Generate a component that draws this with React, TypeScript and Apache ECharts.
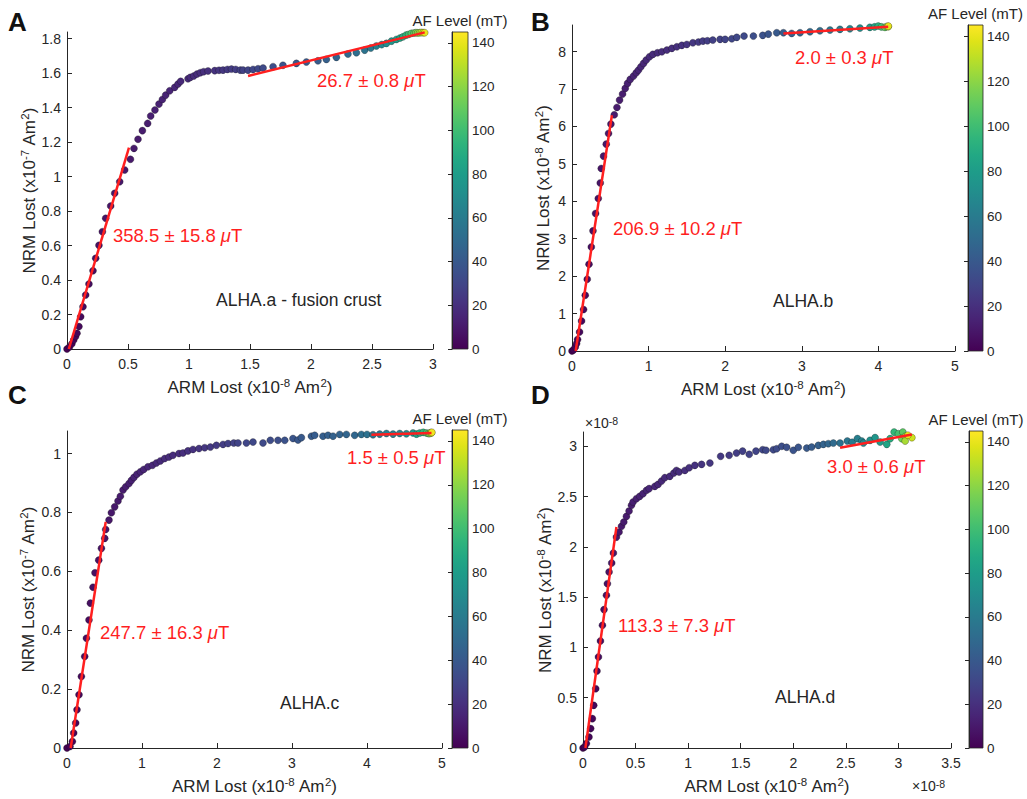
import React, { useEffect, useRef } from 'react';
import * as echarts from 'echarts';

// ---------------- DATA ----------------
// Panel A (ALHA.a - fusion crust), units: ARM x1e-8, NRM x1e-7
const armA = [0, 0.02, 0.04, 0.055, 0.07, 0.082, 0.098, 0.112, 0.131, 0.153, 0.18, 0.213, 0.235, 0.262, 0.29, 0.317, 0.358, 0.391, 0.432, 0.473, 0.52, 0.549, 0.582, 0.618, 0.661, 0.686, 0.721, 0.754, 0.782, 0.809, 0.842, 0.883, 0.91, 0.932, 0.992, 1.011, 1.039, 1.066, 1.093, 1.12, 1.156, 1.211, 1.246, 1.279, 1.315, 1.348, 1.383, 1.421, 1.443, 1.484, 1.525, 1.566, 1.607, 1.689, 1.77, 1.88, 1.962, 2.057, 2.126, 2.208, 2.303, 2.372, 2.44, 2.49, 2.536, 2.58, 2.618, 2.66, 2.7, 2.73, 2.754, 2.78, 2.8, 2.823, 2.845, 2.86, 2.875, 2.891, 2.905, 2.92, 2.932];
const nrmA = [0, 0.012, 0.03, 0.052, 0.072, 0.091, 0.13, 0.187, 0.245, 0.313, 0.377, 0.454, 0.526, 0.601, 0.68, 0.758, 0.829, 0.903, 0.97, 1.038, 1.1, 1.163, 1.216, 1.266, 1.308, 1.351, 1.386, 1.42, 1.447, 1.472, 1.497, 1.517, 1.536, 1.552, 1.567, 1.575, 1.583, 1.594, 1.602, 1.608, 1.612, 1.614, 1.616, 1.617, 1.621, 1.623, 1.621, 1.617, 1.617, 1.617, 1.621, 1.625, 1.629, 1.637, 1.645, 1.656, 1.664, 1.671, 1.679, 1.691, 1.71, 1.718, 1.733, 1.745, 1.757, 1.765, 1.772, 1.785, 1.795, 1.803, 1.81, 1.82, 1.824, 1.83, 1.832, 1.834, 1.833, 1.834, 1.835, 1.834, 1.834];
const afA = [0, 0.5, 1, 1.5, 2, 2.5, 3, 3.5, 4, 4.5, 5, 5.5, 6, 6.5, 7, 7.5, 8, 8.5, 9, 9.5, 10, 10.5, 11, 11.5, 12, 12.5, 13, 13.5, 14, 14.5, 15, 15.5, 16, 16.5, 17, 17.5, 18, 18.5, 19, 19.5, 20, 21, 22, 23, 24, 25, 26, 27, 28, 29, 30, 31, 32, 34, 36, 38, 40, 42, 44, 46, 49, 52, 55, 58, 62, 66, 70, 75, 80, 85, 90, 95, 100, 105, 110, 115, 120, 125, 130, 135, 140];
const fitLowA = [[0.015, 0], [0.508, 1.167]];
const fitHighA = [[1.484, 1.583], [2.932, 1.836]];

// Panel B (ALHA.b), units: ARM x1e-8, NRM x1e-8
const armB = [0, 0.02, 0.043, 0.06, 0.073, 0.099, 0.125, 0.151, 0.173, 0.199, 0.222, 0.252, 0.274, 0.308, 0.343, 0.369, 0.382, 0.412, 0.447, 0.477, 0.508, 0.552, 0.587, 0.621, 0.66, 0.695, 0.725, 0.76, 0.803, 0.838, 0.868, 0.9, 0.934, 0.969, 1.012, 1.056, 1.116, 1.173, 1.239, 1.304, 1.369, 1.434, 1.499, 1.578, 1.651, 1.708, 1.768, 1.838, 1.933, 1.999, 2.086, 2.151, 2.246, 2.368, 2.49, 2.563, 2.673, 2.76, 2.868, 2.977, 3.107, 3.237, 3.368, 3.498, 3.628, 3.759, 3.889, 3.95, 3.998, 4.04, 4.085, 4.11, 4.128, 4.13];
const nrmB = [0, 0.03, 0.107, 0.2, 0.305, 0.508, 0.802, 1.107, 1.489, 1.917, 2.318, 2.781, 3.21, 3.674, 4.075, 4.49, 4.877, 5.206, 5.527, 5.813, 6.062, 6.31, 6.508, 6.703, 6.864, 7.016, 7.15, 7.257, 7.345, 7.433, 7.505, 7.594, 7.684, 7.773, 7.861, 7.925, 7.968, 7.995, 8.04, 8.086, 8.128, 8.166, 8.19, 8.235, 8.254, 8.28, 8.289, 8.307, 8.326, 8.326, 8.342, 8.38, 8.414, 8.414, 8.433, 8.467, 8.503, 8.503, 8.485, 8.503, 8.53, 8.556, 8.575, 8.593, 8.61, 8.628, 8.647, 8.66, 8.682, 8.66, 8.647, 8.67, 8.665, 8.68];
const afB = [0, 0.5, 1, 1.5, 2, 2.5, 3, 3.5, 4, 4.5, 5, 5.5, 6, 6.5, 7, 7.5, 8, 8.5, 9, 9.5, 10, 10.5, 11, 11.5, 12, 12.5, 13, 13.5, 14, 14.5, 15, 15.5, 16, 16.5, 17, 17.5, 18, 18.5, 19, 19.5, 20, 21, 22, 23, 24, 25, 26, 27, 28, 29, 30, 31, 32, 34, 36, 38, 40, 42, 44, 46, 49, 52, 56, 60, 65, 70, 78, 85, 92, 100, 110, 120, 130, 140];
const fitLowB = [[0.048, 0], [0.521, 6.3]];
const fitHighB = [[2.76, 8.486], [4.128, 8.663]];

// Panel C (ALHA.c), units: ARM x1e-8, NRM x1e-7
const armC = [0, 0.04, 0.072, 0.089, 0.116, 0.133, 0.16, 0.192, 0.236, 0.259, 0.293, 0.312, 0.347, 0.373, 0.423, 0.459, 0.503, 0.516, 0.56, 0.592, 0.636, 0.68, 0.712, 0.747, 0.783, 0.827, 0.859, 0.893, 0.933, 0.979, 1.023, 1.08, 1.139, 1.192, 1.245, 1.303, 1.36, 1.413, 1.493, 1.547, 1.613, 1.68, 1.76, 1.836, 1.912, 1.992, 2.08, 2.147, 2.223, 2.28, 2.392, 2.48, 2.613, 2.711, 2.813, 2.903, 3.013, 3.08, 3.125, 3.259, 3.303, 3.413, 3.48, 3.547, 3.636, 3.725, 3.836, 3.925, 4.0, 4.08, 4.169, 4.259, 4.347, 4.436, 4.525, 4.613, 4.66, 4.703, 4.75, 4.792, 4.82, 4.836, 4.85, 4.859, 4.865];
const nrmC = [0, 0.005, 0.022, 0.051, 0.085, 0.13, 0.181, 0.243, 0.311, 0.373, 0.435, 0.492, 0.546, 0.595, 0.638, 0.678, 0.712, 0.742, 0.774, 0.799, 0.819, 0.839, 0.855, 0.876, 0.887, 0.898, 0.909, 0.919, 0.93, 0.938, 0.946, 0.955, 0.96, 0.968, 0.975, 0.983, 0.988, 0.994, 1.0, 1.002, 1.009, 1.014, 1.017, 1.02, 1.022, 1.028, 1.031, 1.034, 1.036, 1.036, 1.036, 1.039, 1.036, 1.045, 1.045, 1.045, 1.051, 1.046, 1.054, 1.059, 1.062, 1.059, 1.062, 1.059, 1.065, 1.065, 1.062, 1.065, 1.065, 1.064, 1.066, 1.068, 1.066, 1.068, 1.067, 1.07, 1.066, 1.07, 1.072, 1.07, 1.068, 1.068, 1.071, 1.07, 1.072];
const afC = [0, 0.5, 1, 1.5, 2, 2.5, 3, 3.5, 4, 4.5, 5, 5.5, 6, 6.5, 7, 7.5, 8, 8.5, 9, 9.5, 10, 10.5, 11, 11.5, 12, 12.5, 13, 13.5, 14, 14.5, 15, 15.5, 16, 16.5, 17, 17.5, 18, 18.5, 19, 19.5, 20.5, 21, 22, 23, 24, 25, 26, 27, 28, 29, 30, 31, 32, 33, 34, 36, 38, 39, 40, 41, 42, 43, 44, 45, 46, 47, 48, 52, 54, 56, 58, 61, 63, 66, 70, 76, 82, 88, 95, 102, 110, 118, 126, 134, 142];
const fitLowC = [[0.049, 0], [0.516, 0.768]];
const fitHighC = [[4.059, 1.064], [4.86, 1.07]];

// Panel D (ALHA.d), units: ARM x1e-8, NRM x1e-8
const armD = [0, 0.015, 0.032, 0.057, 0.073, 0.089, 0.102, 0.121, 0.133, 0.147, 0.166, 0.185, 0.2, 0.223, 0.232, 0.248, 0.273, 0.289, 0.318, 0.343, 0.366, 0.388, 0.413, 0.438, 0.461, 0.476, 0.508, 0.54, 0.571, 0.604, 0.629, 0.683, 0.714, 0.747, 0.778, 0.826, 0.864, 0.889, 0.914, 0.969, 1.01, 1.064, 1.128, 1.207, 1.309, 1.39, 1.46, 1.518, 1.581, 1.645, 1.709, 1.74, 1.81, 1.842, 1.89, 1.937, 2.0, 2.048, 2.128, 2.175, 2.238, 2.286, 2.333, 2.381, 2.445, 2.514, 2.56, 2.61, 2.651, 2.667, 2.73, 2.778, 2.826, 2.889, 2.921, 2.959, 3.0, 3.042, 3.032, 3.064, 3.064, 3.128, 3.09];
const nrmD = [0, 0.01, 0.044, 0.109, 0.193, 0.292, 0.424, 0.59, 0.765, 0.905, 1.064, 1.22, 1.376, 1.518, 1.634, 1.75, 1.839, 1.938, 2.097, 2.147, 2.204, 2.247, 2.303, 2.356, 2.413, 2.446, 2.479, 2.502, 2.529, 2.562, 2.579, 2.601, 2.621, 2.654, 2.688, 2.701, 2.734, 2.76, 2.744, 2.76, 2.787, 2.81, 2.82, 2.833, 2.9, 2.91, 2.933, 2.952, 2.92, 2.952, 2.966, 2.96, 2.966, 2.976, 3.0, 2.99, 2.96, 2.99, 2.982, 2.992, 3.009, 3.019, 3.026, 3.032, 3.032, 3.052, 3.04, 3.076, 3.052, 3.032, 3.059, 3.086, 3.042, 3.019, 3.076, 3.141, 3.125, 3.141, 3.076, 3.098, 3.052, 3.086, 3.11];
const afD = [0, 0.5, 1, 1.5, 2, 2.5, 3, 3.5, 4, 4.5, 5, 5.5, 6, 6.5, 7, 7.5, 8, 8.5, 9, 9.5, 10, 10.5, 11, 11.5, 12, 12.5, 13, 13.5, 14, 14.5, 15, 15.5, 16, 16.5, 17, 17.5, 18, 18.5, 19, 19.5, 20, 21, 22, 23, 24, 25, 26, 27, 28, 29, 30, 31, 32, 33, 34, 35, 37, 38, 40, 42, 44, 46, 48, 50, 53, 56, 59, 62, 65, 68, 72, 76, 80, 85, 90, 96, 102, 108, 114, 120, 126, 134, 140];
const fitLowD = [[0.023, 0], [0.318, 2.197]];
const fitHighD = [[2.445, 2.986], [3.128, 3.118]];

// Tick values
const xTicksA = [0, 0.5, 1, 1.5, 2, 2.5, 3];
const yTicksA = [0, 0.2, 0.4, 0.6, 0.8, 1, 1.2, 1.4, 1.6, 1.8];
const xTicksB = [0, 1, 2, 3, 4, 5];
const yTicksB = [0, 1, 2, 3, 4, 5, 6, 7, 8];
const xTicksC = [0, 1, 2, 3, 4, 5];
const yTicksC = [0, 0.2, 0.4, 0.6, 0.8, 1];
const xTicksD = [0, 0.5, 1, 1.5, 2, 2.5, 3, 3.5];
const yTicksD = [0, 0.5, 1, 1.5, 2, 2.5, 3];
const cbTicks = [0, 20, 40, 60, 80, 100, 120, 140];

// Annotation texts
const slopeLowLabels = ['358.5 \u00b1 15.8 ', '206.9 \u00b1 10.2 ', '247.7 \u00b1 16.3 ', '113.3 \u00b1 7.3 '];
const slopeHighLabels = ['26.7 \u00b1 0.8 ', '2.0 \u00b1 0.3 ', '1.5 \u00b1 0.5 ', '3.0 \u00b1 0.6 '];
const sampleNames = ['ALHA.a - fusion crust', 'ALHA.b', 'ALHA.c', 'ALHA.d'];
const panelLetters = ['A', 'B', 'C', 'D'];
const nrmExponents = ['-7', '-8', '-7', '-8'];

// ---------------- STYLE ----------------
const FONT = '"Liberation Sans", Arial, Helvetica, sans-serif';
const AX = '#262626';
const RED = '#ff1f1f';
const VIRIDIS = ['#440154', '#471365', '#482475', '#463480', '#414487', '#3b528b', '#355f8d', '#2f6c8e', '#2a788e', '#25848e', '#21918c', '#1e9c89', '#22a884', '#2fb47c', '#44bf70', '#5ec962', '#7ad151', '#9bd93c', '#bddf26', '#dfe318', '#fde725'];

export default function App() {
  const ref = useRef<HTMLDivElement>(null);

  useEffect(() => {
    if (!ref.current) return;
    const chart = echarts.init(ref.current, null, { renderer: 'svg' });

    const panels = [
      { arm: armA, nrm: nrmA, af: afA, fits: [fitLowA, fitHighA], xT: xTicksA, yT: yTicksA, xMax: 3, yMax: 1.838,
        grid: { left: 67, top: 32, width: 366, height: 317 }, cb: { x: 452, y: 32, w: 16, h: 317 }, yGap: 28 },
      { arm: armB, nrm: nrmB, af: afB, fits: [fitLowB, fitHighB], xT: xTicksB, yT: yTicksB, xMax: 5, yMax: 8.71,
        grid: { left: 572, top: 25, width: 383, height: 326 }, cb: { x: 968, y: 25, w: 15, h: 326 }, yGap: 19 },
      { arm: armC, nrm: nrmC, af: afC, fits: [fitLowC, fitHighC], xT: xTicksC, yT: yTicksC, xMax: 5, yMax: 1.0766,
        grid: { left: 67, top: 431, width: 375, height: 317 }, cb: { x: 452, y: 430, w: 16, h: 318 }, yGap: 29 },
      { arm: armD, nrm: nrmD, af: afD, fits: [fitLowD, fitHighD], xT: xTicksD, yT: yTicksD, xMax: 3.5, yMax: 3.142,
        grid: { left: 583, top: 432, width: 368, height: 316 }, cb: { x: 969, y: 431, w: 14, h: 317 }, yGap: 27 },
    ];

    const richName = {
      t: { fontSize: 17, fontFamily: FONT, color: AX, lineHeight: 20 },
      s: { fontSize: 11.5, fontFamily: FONT, color: AX, lineHeight: 10, verticalAlign: 'top' },
    };

    const grids: any[] = [];
    const xAxes: any[] = [];
    const yAxes: any[] = [];
    const series: any[] = [];
    const graphics: any[] = [];

    panels.forEach((p, i) => {
      grids.push({ ...p.grid });
      xAxes.push({
        type: 'value', gridIndex: i, min: 0, max: p.xMax,
        axisLine: { show: true, onZero: false, lineStyle: { color: AX, width: 1 } },
        axisTick: { show: true, inside: true, length: 5, lineStyle: { color: AX }, customValues: p.xT },
        axisLabel: { color: AX, fontSize: 14, fontFamily: FONT, margin: 8, customValues: p.xT },
        splitLine: { show: false },
        name: '{t|ARM Lost (x10}{s|-8}{t| Am}{s|2}{t|)}',
        nameLocation: 'middle', nameGap: 28,
        nameTextStyle: { fontSize: 17, fontFamily: FONT, color: AX, rich: richName },
      });
      yAxes.push({
        type: 'value', gridIndex: i, min: 0, max: p.yMax,
        axisLine: { show: true, onZero: false, lineStyle: { color: AX, width: 1 } },
        axisTick: { show: true, inside: true, length: 5, lineStyle: { color: AX }, customValues: p.yT },
        axisLabel: { color: AX, fontSize: 14, fontFamily: FONT, margin: 6, customValues: p.yT },
        splitLine: { show: false },
        name: '{t|NRM Lost (x10}{s|' + nrmExponents[i] + '}{t| Am}{s|2}{t|)}',
        nameLocation: 'middle', nameGap: p.yGap,
        nameTextStyle: { fontSize: 17, fontFamily: FONT, color: AX, rich: richName },
      });
    });

    // colorbar grids
    panels.forEach((p, i) => {
      grids.push({ left: p.cb.x, top: p.cb.y, width: p.cb.w, height: p.cb.h });
      xAxes.push({ type: 'value', gridIndex: 4 + i, min: 0, max: 1, show: false });
      yAxes.push({
        type: 'value', gridIndex: 4 + i, min: 0, max: 145, position: 'right', z: 5,
        axisLine: { show: true, lineStyle: { color: AX, width: 1 } },
        axisTick: { show: true, inside: true, length: 4, lineStyle: { color: AX }, customValues: cbTicks },
        axisLabel: { color: AX, fontSize: 13.5, fontFamily: FONT, margin: 4, customValues: cbTicks },
        splitLine: { show: false },
      });
      graphics.push({
        type: 'rect', z: 1,
        shape: { x: p.cb.x, y: p.cb.y, width: p.cb.w, height: p.cb.h },
        style: {
          fill: new echarts.graphic.LinearGradient(0, 1, 0, 0,
            VIRIDIS.map((c, k) => ({ offset: k / (VIRIDIS.length - 1), color: c }))),
          stroke: AX, lineWidth: 0.8,
        },
      });
      graphics.push({
        type: 'text', z: 10, x: p.cb.x + p.cb.w / 2, y: p.cb.y - 12,
        style: { text: 'AF Level (mT)', fontSize: 15, fontFamily: FONT, fill: AX, textAlign: 'center', textVerticalAlign: 'middle' },
      });
    });

    // scatter series first (visualMap indices 0..3)
    panels.forEach((p, i) => {
      series.push({
        type: 'scatter', xAxisIndex: i, yAxisIndex: i, z: 2,
        symbolSize: 7,
        itemStyle: { borderColor: 'rgba(20,20,20,0.6)', borderWidth: 0.5, opacity: 1 },
        data: p.arm.map((x, k) => [x, p.nrm[k], p.af[k]]),
      });
    });
    panels.forEach((p, i) => {
      p.fits.forEach((f) => {
        series.push({
          type: 'line', xAxisIndex: i, yAxisIndex: i, z: 3, symbol: 'none', silent: true,
          lineStyle: { color: RED, width: 2.5 }, data: f,
        });
      });
    });

    const redRich = {
      n: { fontSize: 18.5, fontFamily: FONT, fill: RED },
      i: { fontSize: 18.5, fontFamily: FONT, fill: RED, fontStyle: 'italic' },
    };
    const addText = (x: number, y: number, text: string, rich: any, extra: any = {}) => {
      graphics.push({
        type: 'text', z: 10, x, y,
        style: { text, rich, fontFamily: FONT, textAlign: 'left', textVerticalAlign: 'middle', ...extra },
      });
    };

    // slope annotations
    const lowPos = [[113, 235], [613, 228], [100, 632], [618, 625]];
    const highPos = [[317, 80], [795, 57], [347, 457], [827, 466]];
    const namePos = [[216, 300], [773, 301], [280, 703], [775, 697]];
    const letterPos = [[8, 22], [531, 22], [8, 395], [531, 395]];
    for (let i = 0; i < 4; i++) {
      addText(lowPos[i][0], lowPos[i][1], '{n|' + slopeLowLabels[i] + '}{i|\u03bc}{n|T}', redRich);
      addText(highPos[i][0], highPos[i][1], '{n|' + slopeHighLabels[i] + '}{i|\u03bc}{n|T}', redRich);
      addText(namePos[i][0], namePos[i][1], sampleNames[i], undefined, { fontSize: 17.5, fill: AX });
      addText(letterPos[i][0], letterPos[i][1], panelLetters[i], undefined, { fontSize: 26, fontWeight: 'bold', fill: '#111' });
    }
    const expRich = {
      t: { fontSize: 14, fontFamily: FONT, fill: AX, lineHeight: 16 },
      s: { fontSize: 10.5, fontFamily: FONT, fill: AX, lineHeight: 9, verticalAlign: 'top' },
    };
    addText(585, 423, '{t|\u00d710}{s|-8}', expRich);
    addText(912, 786, '{t|\u00d710}{s|-8}', expRich);

    chart.setOption({
      animation: false,
      backgroundColor: '#ffffff',
      grid: grids,
      xAxis: xAxes,
      yAxis: yAxes,
      visualMap: [{
        type: 'continuous', show: false, min: 0, max: 145, dimension: 2,
        seriesIndex: [0, 1, 2, 3], inRange: { color: VIRIDIS },
      }],
      series,
      graphic: graphics,
    });

    return () => chart.dispose();
  }, []);

  return <div ref={ref} style={{ position: 'absolute', left: 0, top: 0, width: 1027, height: 799 }} />;
}
